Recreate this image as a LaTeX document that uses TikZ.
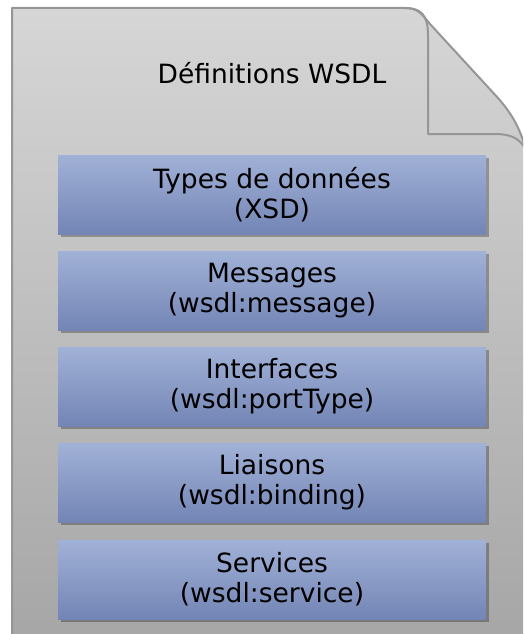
\documentclass[tikz,border=0pt]{standalone}
\usepackage{fontspec}
\setmainfont{DejaVu Sans}
\usetikzlibrary{shadows}
\definecolor{pagetop}{RGB}{214,214,214}
\definecolor{pagebot}{RGB}{166,166,166}
\definecolor{pageline}{RGB}{150,150,150}
\definecolor{boxtop}{RGB}{161,177,215}
\definecolor{boxbot}{RGB}{115,133,181}
\tikzset{
  layerbox/.style={rectangle, minimum width=428pt, minimum height=79pt,
    inner sep=0pt, align=center, top color=boxtop, bottom color=boxbot,
    font=\fontsize{26.5}{30}\selectfont, text=black,
    drop shadow={shadow xshift=3pt, shadow yshift=-3pt, fill=black, opacity=0.28}},
  titletext/.style={font=\fontsize{26.5}{30}\selectfont, text=black, anchor=base, inner sep=0pt},
  pageedge/.style={draw=pageline, line width=2pt, line join=round}
}
\begin{document}
\begin{tikzpicture}[x=1pt,y=-1pt]
\useasboundingbox (0,0) rectangle (523,634);
\begin{scope}
\clip (0,0) rectangle (523,634);
\shade[top color=pagetop, bottom color=pagebot]
  (12,640) -- (12,8) -- (405,8) .. controls (418,8) and (422,14) .. (430,24)
  -- (498,98) .. controls (512,114) and (520,128) .. (526,150) -- (528,640) -- cycle;
\draw[pageedge]
  (12,640) -- (12,8) -- (405,8) .. controls (418,8) and (422,14) .. (430,24)
  -- (498,98) .. controls (512,114) and (520,128) .. (526,150) -- (528,640);
\draw[pageedge]
  (405,8) .. controls (420,8) and (428,14) .. (428,35) -- (428,134) -- (495,134)
  .. controls (510,134) and (520,138) .. (526,150);
\end{scope}
\node[titletext] (title) at (272,83) {Définitions WSDL};
\node[layerbox] (types) at (272,194.5) {Types de données\\(XSD)};
\node[layerbox] (msg) at (272,290.5) {Messages\\(wsdl:message)};
\node[layerbox] (iface) at (272,386.5) {Interfaces\\(wsdl:portType)};
\node[layerbox] (bind) at (272,482.5) {Liaisons\\(wsdl:binding)};
\node[layerbox] (serv) at (272,579.5) {Services\\(wsdl:service)};
\end{tikzpicture}
\end{document}
